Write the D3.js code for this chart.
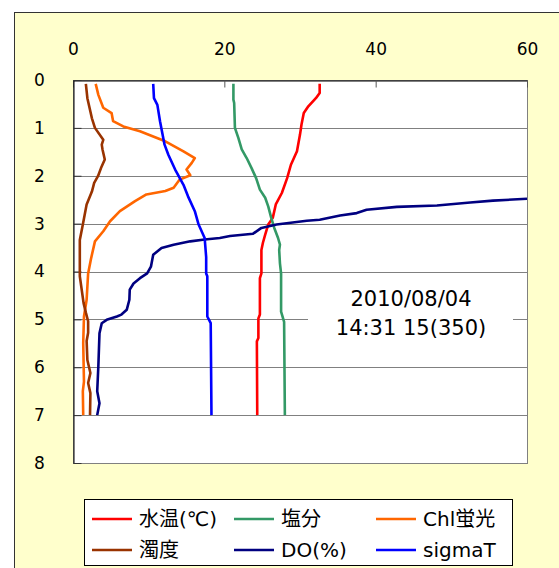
<!DOCTYPE html>
<html>
<head>
<meta charset="utf-8">
<script src="https://cdn.jsdelivr.net/npm/d3@7"></script>
<style>
  body { margin: 0; background: #fff; }
  svg text { font-family: "DejaVu Sans", "Noto Sans CJK JP", sans-serif; fill: #000; }
</style>
</head>
<body>
<div id="chart"></div>
<script>
// x ticks / y ticks
const xTicks = [0, 20, 40, 60];
const depthTicks = [0, 1, 2, 3, 4, 5, 6, 7, 8];

// each series: [depth (m), value]
const waterTemp = [
  [0.08, 32.6], [0.27, 32.6], [0.38, 32.1], [0.55, 31.1], [0.69, 30.5], [0.93, 30.2],
  [1.14, 30.0], [1.49, 29.6], [1.77, 28.8], [2.05, 28.3], [2.36, 27.6], [2.6, 26.8],
  [2.88, 26.4], [3.02, 25.8], [3.23, 25.4], [3.4, 25.1], [3.55, 24.9], [4.04, 24.9],
  [4.14, 24.7], [4.9, 24.7], [4.98, 24.5], [5.39, 24.5], [5.46, 24.3], [7.0, 24.35]
];
const salinity = [
  [0.08, 21.2], [0.41, 21.2], [0.48, 21.3], [1.0, 21.4], [1.21, 21.85], [1.45, 22.3],
  [1.63, 22.95], [1.84, 23.6], [2.05, 24.2], [2.29, 24.7], [2.46, 25.4], [2.64, 25.8],
  [2.88, 26.2], [3.09, 26.6], [3.3, 27.1], [3.44, 27.35], [3.55, 27.25], [3.83, 27.35],
  [4.04, 27.5], [4.84, 27.5], [5.05, 27.9], [7.0, 28.0]
];
const chl = [
  [0.08, 3.0], [0.31, 3.35], [0.58, 4.0], [0.69, 5.1], [0.86, 5.3], [0.97, 6.65],
  [1.07, 8.85], [1.21, 11.1], [1.28, 12.2], [1.49, 14.6], [1.63, 16.1], [1.73, 15.7],
  [1.87, 15.0], [1.99, 15.5], [2.08, 14.1], [2.25, 13.3], [2.32, 12.2], [2.39, 9.7],
  [2.53, 8.2], [2.74, 6.2], [2.95, 4.9], [3.16, 4.0], [3.37, 2.9], [3.72, 2.4],
  [4.04, 2.0], [4.59, 1.8], [4.94, 1.45], [5.5, 1.35], [6.3, 1.45], [6.5, 1.3], [7.0, 1.35]
];
const turbidity = [
  [0.08, 1.7], [0.38, 1.9], [0.8, 2.5], [1.0, 2.9], [1.25, 4.0], [1.35, 3.8],
  [1.45, 3.9], [1.66, 4.2], [1.84, 3.7], [2.01, 3.3], [2.15, 2.8], [2.33, 2.5],
  [2.6, 1.8], [3.02, 1.3], [3.34, 0.9], [3.72, 0.9], [4.1, 0.9], [4.66, 1.4],
  [4.86, 1.7], [5.04, 2.0], [5.28, 2.0], [5.45, 1.8], [5.85, 1.9], [6.12, 2.3],
  [6.33, 2.0], [6.54, 2.3], [7.0, 2.25]
];
const dissolvedO2 = [
  [2.48, 60.0], [2.52, 55.5], [2.56, 52.5], [2.62, 48.1], [2.65, 42.8], [2.71, 38.8],
  [2.78, 37.5], [2.83, 35.3], [2.92, 32.6], [2.94, 30.9], [3.02, 26.9], [3.09, 24.9],
  [3.21, 23.8], [3.26, 20.75], [3.3, 19.4], [3.33, 17.4], [3.37, 15.5], [3.44, 13.3],
  [3.51, 11.7], [3.65, 10.6], [3.9, 10.3], [4.04, 9.8], [4.14, 8.85], [4.25, 8.0],
  [4.38, 7.5], [4.59, 7.45], [4.8, 7.1], [4.9, 6.4], [4.94, 5.8], [5.01, 4.45],
  [5.08, 3.8], [5.29, 3.5], [5.98, 3.35], [6.5, 3.2], [6.75, 3.5], [7.0, 3.2]
];
const sigmaT = [
  [0.08, 10.6], [0.38, 10.7], [0.52, 11.15], [0.86, 11.5], [1.35, 12.1], [1.56, 12.6],
  [1.87, 13.5], [2.19, 14.6], [2.43, 15.2], [2.74, 16.1], [3.02, 16.6], [3.3, 17.4],
  [3.7, 17.6], [4.04, 17.6], [4.1, 17.75], [4.94, 17.75], [5.08, 18.2], [7.0, 18.3]
];

const seriesNames = ["水温(℃)", "塩分", "Chl蛍光", "濁度", "DO(%)", "sigmaT"];
const seriesColors = ["#ff0000", "#339966", "#ff6600", "#993300", "#000080", "#0000ff"];
const seriesData = [waterTemp, salinity, chl, turbidity, dissolvedO2, sigmaT];

const dateLabel = ["2010/08/04", "14:31 15(350)"];

const width = 559, height = 568;
const plot = { left: 73, top: 80, right: 527, bottom: 463 };

const svg = d3.select("#chart").append("svg")
  .attr("width", width)
  .attr("height", height);

// outer chart area
svg.append("rect")
  .attr("x", 14.5).attr("y", 12.5)
  .attr("width", 700).attr("height", 700)
  .attr("fill", "#ffffcc")
  .attr("stroke", "#333");

const x = d3.scaleLinear().domain([0, 60]).range([plot.left, plot.right]);
const y = d3.scaleLinear().domain([0, 8]).range([plot.top, plot.bottom]);

// plot area
svg.append("rect")
  .attr("x", plot.left + 0.5).attr("y", plot.top + 0.5)
  .attr("width", plot.right - plot.left).attr("height", plot.bottom - plot.top)
  .attr("fill", "#fff")
  .attr("stroke", "#808080");

// gridlines
svg.append("g")
  .selectAll("line")
  .data(depthTicks.slice(1, -1))
  .join("line")
  .attr("x1", plot.left).attr("x2", plot.right)
  .attr("y1", d => Math.round(y(d)) + 0.5).attr("y2", d => Math.round(y(d)) + 0.5)
  .attr("stroke", "#808080");

// annotation box (drawn under lines)
svg.append("rect")
  .attr("x", 308).attr("y", 282)
  .attr("width", 205).attr("height", 62)
  .attr("fill", "#fff");

svg.append("g")
  .selectAll("text")
  .data(dateLabel)
  .join("text")
  .attr("x", 411)
  .attr("y", (d, i) => 306 + i * 29)
  .attr("text-anchor", "middle")
  .style("font-size", "21px")
  .text(d => d);

// axes
const xAxis = svg.append("g")
  .attr("transform", `translate(0,${plot.top + 0.5})`)
  .call(d3.axisTop(x).tickValues(xTicks).tickSizeInner(-7).tickSizeOuter(0).tickPadding(26));
xAxis.select(".domain").attr("stroke", "#000");
xAxis.selectAll(".tick line").attr("stroke", "#555");
xAxis.selectAll("text").style("font-size", "17px").style("font-family", "DejaVu Sans");

const yAxis = svg.append("g")
  .attr("transform", `translate(${plot.left + 0.5},0)`)
  .call(d3.axisLeft(y).tickValues(depthTicks).tickSizeInner(-8).tickSizeOuter(0).tickPadding(38));
yAxis.select(".domain").attr("stroke", "#000");
yAxis.selectAll(".tick line").attr("stroke", "#333");
yAxis.selectAll("text").attr("text-anchor", "middle").style("font-size", "17px").style("font-family", "DejaVu Sans");
yAxis.selectAll(".tick text").attr("x", 39 - plot.left);

// lines
svg.append("clipPath").attr("id", "clip")
  .append("rect")
  .attr("x", plot.left).attr("y", plot.top)
  .attr("width", plot.right - plot.left).attr("height", plot.bottom - plot.top);

const line = d3.line()
  .x(d => x(d[1]))
  .y(d => y(d[0]));

svg.append("g")
  .attr("clip-path", "url(#clip)")
  .selectAll("path")
  .data(seriesData)
  .join("path")
  .attr("d", line)
  .attr("fill", "none")
  .attr("stroke", (d, i) => seriesColors[i])
  .attr("stroke-width", 2.6)
  .attr("stroke-linejoin", "round");

// legend
svg.append("rect")
  .attr("x", 84.5).attr("y", 499.5)
  .attr("width", 428).attr("height", 66)
  .attr("fill", "#fff")
  .attr("stroke", "#000");

const legendItem = svg.append("g")
  .selectAll("g")
  .data(seriesNames)
  .join("g")
  .attr("transform", (d, i) => `translate(${92 + (i % 3) * 142},${519 + Math.floor(i / 3) * 31})`);

legendItem.append("line")
  .attr("x1", 0).attr("x2", 40)
  .attr("stroke", (d, i) => seriesColors[i])
  .attr("stroke-width", 2.6);

legendItem.append("text")
  .attr("x", 47)
  .attr("dy", "0.36em")
  .style("font-size", "20px")
  .text(d => d);
</script>
</body>
</html>
